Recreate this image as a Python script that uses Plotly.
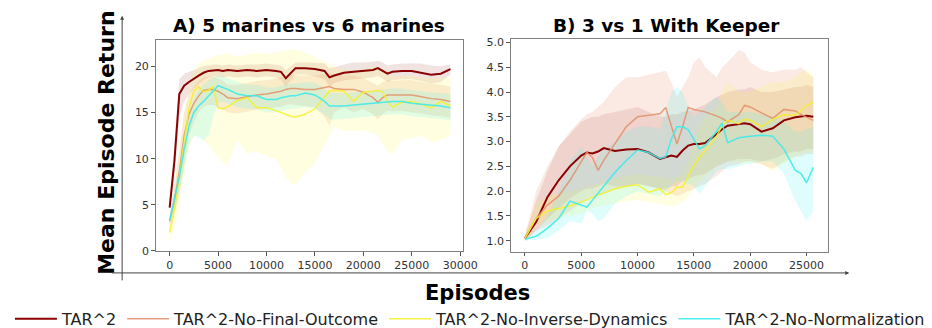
import plotly.graph_objects as go

W, H = 932, 328

# ---------------- data ----------------
series_names = ["TAR^2", "TAR^2-No-Final-Outcome", "TAR^2-No-Inverse-Dynamics", "TAR^2-No-Normalization"]

# Panel A: 5 marines vs 6 marines
xa = [0, 500, 1000, 1500, 2000, 2500, 3000, 3500, 4000, 4500, 5000, 5500, 6000, 7000, 8000, 9000,
      10000, 11000, 11500, 12000, 12500, 13000, 14000, 15000, 16000, 16500, 17000, 18000, 19000,
      20000, 21000, 21500, 22000, 22500, 23000, 24000, 25000, 26000, 27000, 28000, 29000]

tar_a = [4.7, 9.8, 17.0, 17.9, 18.3, 18.7, 19.0, 19.3, 19.5, 19.55, 19.6, 19.5, 19.6, 19.5, 19.6, 19.5,
         19.6, 19.5, 19.4, 18.7, 19.3, 19.8, 19.8, 19.7, 19.5, 18.8, 19.0, 19.3, 19.4,
         19.5, 19.6, 19.8, 19.5, 19.2, 19.4, 19.5, 19.5, 19.3, 19.1, 19.2, 19.7]
tar_a_hi = [5.3, 11.5, 18.6, 19.2, 19.4, 19.6, 19.8, 20.0, 20.1, 20.2, 20.2, 20.1, 20.2, 20.1, 20.2, 20.2,
            20.3, 20.2, 20.1, 19.6, 20.0, 20.4, 20.4, 20.4, 20.3, 19.8, 19.9, 20.2, 20.4,
            20.4, 20.5, 20.6, 20.4, 20.1, 20.2, 20.3, 20.3, 20.3, 20.1, 20.0, 20.2]
tar_a_lo = [4.1, 8.0, 14.5, 16.2, 17.0, 17.6, 18.1, 18.5, 18.8, 18.9, 18.9, 18.8, 18.9, 18.8, 18.9, 18.8,
            18.9, 18.8, 18.5, 17.8, 18.4, 19.1, 19.1, 18.9, 18.6, 17.8, 18.2, 18.5, 18.6,
            18.7, 18.8, 19.0, 18.6, 18.3, 18.5, 18.6, 18.6, 18.4, 18.1, 18.3, 19.1]

nfo_a = [3.2, 5.5, 8.5, 12.5, 14.8, 16.0, 16.8, 17.4, 17.5, 17.5, 17.3, 17.0, 16.6, 16.5, 16.7, 16.9,
         17.0, 17.2, 17.3, 17.5, 17.6, 17.6, 17.5, 17.5, 17.7, 17.8, 17.6, 17.5, 17.5,
         17.2, 16.6, 16.1, 16.6, 16.9, 16.9, 16.9, 16.9, 16.7, 16.5, 16.4, 16.2]
nfo_a_hi = [3.8, 7.0, 11.0, 15.0, 17.0, 17.8, 18.4, 18.8, 18.9, 18.9, 18.7, 18.4, 18.0, 18.0, 18.2, 18.4,
            18.5, 18.7, 18.8, 19.0, 19.1, 19.0, 19.0, 19.0, 19.2, 19.3, 19.1, 19.0, 19.0,
            18.7, 18.2, 17.9, 18.3, 18.5, 18.4, 18.5, 18.5, 18.3, 18.1, 18.0, 17.8]
nfo_a_lo = [2.6, 4.0, 6.0, 9.5, 12.5, 14.0, 15.0, 15.6, 15.8, 15.8, 15.6, 15.3, 15.0, 14.9, 15.1, 15.3,
            15.4, 15.6, 15.6, 15.8, 15.9, 15.8, 15.7, 15.6, 14.5, 13.6, 15.0, 15.6, 15.0,
            15.4, 14.8, 14.2, 14.8, 15.2, 15.1, 15.2, 15.0, 14.9, 14.7, 14.6, 14.4]

nid_a = [2.0, 4.5, 8.0, 12.0, 15.5, 17.3, 17.8, 17.2, 17.4, 17.8, 15.5, 15.4, 15.6, 16.3, 16.6, 15.5,
         15.5, 15.2, 15.0, 14.8, 14.6, 14.5, 14.8, 15.4, 16.6, 17.3, 17.4, 17.3, 16.2,
         17.2, 17.3, 17.4, 17.2, 16.2, 15.6, 16.1, 16.2, 15.9, 15.5, 16.2, 15.7]
nid_a_hi = [3.5, 7.0, 11.0, 15.0, 18.0, 19.5, 20.3, 20.6, 20.8, 21.0, 21.2, 21.3, 21.5, 21.0, 21.3, 21.5,
            21.3, 21.5, 21.6, 21.7, 21.8, 21.8, 21.5, 21.0, 20.5, 20.2, 20.0, 19.6, 19.5,
            19.7, 20.0, 19.9, 19.8, 19.5, 19.0, 19.0, 19.0, 18.8, 18.8, 18.8, 18.8]
nid_a_lo = [0.9, 2.5, 5.0, 8.0, 11.0, 12.5, 12.5, 12.0, 11.5, 10.8, 10.2, 9.6, 9.3, 12.0, 10.5, 10.8,
            10.3, 10.0, 9.0, 8.0, 7.3, 7.1, 8.5, 9.5, 11.5, 12.5, 13.5, 13.0, 13.0,
            13.0, 12.8, 12.5, 11.5, 10.8, 10.5, 12.0, 12.2, 12.5, 11.8, 12.0, 12.5]

nn_a = [3.3, 5.5, 8.0, 11.0, 13.5, 15.0, 15.7, 16.2, 16.8, 17.4, 17.9, 17.7, 17.5, 17.0, 16.8, 16.8,
        16.4, 16.4, 16.6, 16.7, 16.8, 16.8, 17.1, 16.9, 16.2, 15.7, 15.7, 15.7, 15.8,
        15.9, 16.0, 16.1, 16.1, 16.2, 16.2, 16.2, 16.0, 15.9, 15.8, 15.7, 15.5]
nn_a_hi = [3.7, 6.5, 9.5, 12.5, 15.0, 16.5, 17.5, 18.0, 18.5, 18.8, 19.0, 18.9, 18.7, 18.3, 18.0, 18.0,
           17.7, 17.7, 17.9, 18.0, 18.1, 18.1, 18.3, 18.2, 17.6, 17.1, 17.1, 17.1, 17.2,
           17.3, 17.4, 17.5, 17.5, 17.6, 17.6, 17.6, 17.4, 17.3, 17.2, 17.1, 17.0]
nn_a_lo = [2.9, 4.5, 6.5, 9.0, 11.5, 12.5, 12.3, 12.0, 12.5, 14.5, 16.0, 16.2, 16.0, 15.6, 15.4, 15.4,
           15.0, 15.0, 15.2, 15.3, 15.4, 15.4, 15.6, 15.4, 14.8, 14.3, 14.2, 14.3, 14.4,
           14.5, 14.6, 14.7, 14.7, 14.8, 14.8, 14.8, 14.6, 14.5, 14.4, 14.3, 14.1]

# Panel B: 3 vs 1 With Keeper
xb = [0, 1000, 2000, 3000, 4000, 5000, 5500, 6000, 6500, 7000, 8000, 9000, 10000, 11000, 12000,
      12500, 13000, 13500, 14000, 14500, 15000, 15500, 16000, 17000, 17500, 18000, 19000, 19500,
      20000, 21000, 22000, 23000, 24000, 24500, 25000, 25600]

tar_b = [1.05, 1.38, 1.88, 2.22, 2.5, 2.72, 2.78, 2.76, 2.8, 2.87, 2.81, 2.84, 2.85, 2.78, 2.65,
         2.68, 2.72, 2.69, 2.82, 2.92, 2.95, 2.95, 2.97, 3.15, 3.25, 3.32, 3.36, 3.37,
         3.35, 3.2, 3.27, 3.43, 3.49, 3.5, 3.52, 3.5]
tar_b_hi = [1.1, 1.8, 2.4, 2.9, 3.15, 3.4, 3.45, 3.5, 3.5, 3.55, 3.6, 3.65, 3.7, 3.6, 3.5,
            3.5, 3.55, 3.55, 3.6, 3.62, 3.65, 3.7, 3.75, 3.9, 3.95, 4.0, 4.05, 4.05,
            4.1, 4.0, 4.0, 4.05, 4.1, 4.1, 4.15, 4.1]
tar_b_lo = [1.0, 1.2, 1.45, 1.65, 1.85, 2.0, 2.05, 2.05, 2.1, 2.15, 2.1, 2.1, 2.15, 2.1, 2.05,
            2.05, 2.1, 2.1, 2.2, 2.25, 2.3, 2.32, 2.35, 2.5, 2.55, 2.6, 2.65, 2.65,
            2.65, 2.6, 2.65, 2.75, 2.8, 2.8, 2.85, 2.85]

nfo_b = [1.05, 1.45, 1.72, 1.9, 2.22, 2.58, 2.78, 2.68, 2.42, 2.62, 2.95, 3.3, 3.5, 3.53, 3.56,
         3.69, 3.3, 2.95, 3.3, 3.69, 3.65, 3.63, 3.6, 3.52, 3.47, 3.4, 3.55, 3.73,
         3.7, 3.58, 3.47, 3.65, 3.62, 3.55, 3.5, 3.43]
nfo_b_hi = [1.1, 2.0, 2.5, 2.9, 3.2, 3.45, 3.55, 3.6, 3.7, 3.8, 4.1, 4.3, 4.3, 4.35, 4.4,
            4.43, 4.2, 3.9, 4.1, 4.3, 4.6, 4.7, 4.5, 4.3, 4.5, 4.6, 4.85, 4.8,
            4.6, 4.45, 4.4, 4.45, 4.45, 4.5, 4.4, 4.3]
nfo_b_lo = [1.0, 1.2, 1.3, 1.45, 1.6, 1.75, 1.85, 1.9, 1.9, 1.95, 2.05, 2.1, 2.15, 2.1, 2.05,
            2.0, 1.95, 1.9, 1.95, 2.0, 2.05, 2.1, 2.15, 2.3, 2.4, 2.5, 2.55, 2.6,
            2.6, 2.55, 2.45, 2.6, 2.7, 2.7, 2.75, 2.75]

nid_b = [1.05, 1.45, 1.6, 1.65, 1.7, 1.78, 1.83, 1.88, 1.92, 1.96, 2.05, 2.1, 2.13, 1.98, 2.05,
         1.93, 1.97, 2.08, 2.08, 2.3, 2.52, 2.68, 2.82, 3.1, 3.32, 3.43, 3.36, 3.45,
         3.43, 3.3, 3.45, 3.54, 3.53, 3.62, 3.73, 3.79]
nid_b_hi = [1.1, 1.75, 1.9, 1.95, 2.0, 2.05, 2.1, 2.12, 2.15, 2.2, 2.25, 2.3, 2.35, 2.3, 2.3,
            2.25, 2.25, 2.3, 2.35, 2.6, 3.0, 3.3, 3.5, 3.7, 4.0, 4.2, 4.0, 4.0,
            4.0, 4.1, 4.2, 4.2, 4.3, 4.4, 4.45, 4.35]
nid_b_lo = [1.0, 1.3, 1.4, 1.45, 1.5, 1.55, 1.6, 1.65, 1.68, 1.7, 1.75, 1.8, 1.82, 1.78, 1.75,
            1.72, 1.7, 1.72, 1.78, 1.9, 2.05, 2.2, 2.3, 2.5, 2.55, 2.6, 2.6, 2.55,
            2.6, 2.55, 2.4, 2.55, 2.7, 2.75, 2.8, 2.8]

nn_b = [1.03, 1.09, 1.25, 1.45, 1.8, 1.72, 1.68, 1.82, 1.95, 2.1, 2.38, 2.62, 2.83, 2.78, 2.66,
        2.69, 3.05, 3.3, 3.3, 3.24, 3.05, 2.85, 2.92, 3.2, 3.37, 2.98, 3.08, 3.1,
        3.11, 3.13, 3.11, 2.85, 2.42, 2.36, 2.17, 2.48]
nn_b_hi = [1.05, 1.2, 1.5, 2.0, 2.6, 2.9, 2.7, 2.5, 2.7, 2.85, 3.0, 3.2, 3.3, 3.3, 3.25,
           3.6, 4.0, 4.1, 4.0, 3.7, 3.5, 3.6, 3.7, 3.9, 3.8, 3.6, 3.6, 3.6,
           3.6, 3.55, 3.5, 3.4, 3.2, 3.2, 3.25, 3.3]
nn_b_lo = [1.0, 1.02, 1.05, 1.2, 1.4, 1.35, 1.6, 1.55, 1.4, 1.45, 1.75, 1.9, 2.0, 1.95, 1.9,
           2.0, 2.1, 2.2, 2.2, 2.15, 2.1, 1.95, 2.1, 2.4, 2.45, 2.45, 2.5, 2.55,
           2.55, 2.6, 2.6, 2.35, 1.8, 1.6, 1.4, 1.6]

xticks_a = [0, 5000, 10000, 15000, 20000, 25000, 30000]
yticks_a = [0, 5, 10, 15, 20]
xticks_b = [0, 5000, 10000, 15000, 20000, 25000]
yticks_b = [1.0, 1.5, 2.0, 2.5, 3.0, 3.5, 4.0, 4.5, 5.0]

# ---------------- styles ----------------
line_colors = ["#8B0000", "rgba(225,145,105,0.85)", "rgba(245,240,40,0.85)", "rgba(60,235,235,0.9)"]
band_colors = ["rgba(139,0,0,0.11)", "rgba(225,140,100,0.18)", "rgba(255,250,60,0.16)", "rgba(60,240,240,0.16)"]
line_widths = [2.0, 1.5, 1.5, 1.5]

panels = [
    ("x", "y", xa, [(tar_a, tar_a_lo, tar_a_hi), (nfo_a, nfo_a_lo, nfo_a_hi),
                    (nid_a, nid_a_lo, nid_a_hi), (nn_a, nn_a_lo, nn_a_hi)]),
    ("x2", "y2", xb, [(tar_b, tar_b_lo, tar_b_hi), (nfo_b, nfo_b_lo, nfo_b_hi),
                      (nid_b, nid_b_lo, nid_b_hi), (nn_b, nn_b_lo, nn_b_hi)]),
]

fig = go.Figure()
for pi, (xr, yr, xs, groups) in enumerate(panels):
    for si, (m, lo, hi) in enumerate(groups):
        fig.add_trace(go.Scatter(x=xs, y=lo, xaxis=xr, yaxis=yr, mode="lines",
                                 line=dict(width=0), showlegend=False, hoverinfo="skip"))
        fig.add_trace(go.Scatter(x=xs, y=hi, xaxis=xr, yaxis=yr, mode="lines",
                                 line=dict(width=0), fill="tonexty", fillcolor=band_colors[si],
                                 showlegend=False, hoverinfo="skip"))
    for si, (m, lo, hi) in enumerate(groups):
        fig.add_trace(go.Scatter(x=xs, y=m, xaxis=xr, yaxis=yr, mode="lines",
                                 line=dict(color=line_colors[si], width=line_widths[si]),
                                 name=series_names[si], showlegend=(pi == 0)))

def px(x):
    return x / W

def py(y):
    return 1 - y / H

axis_common = dict(showgrid=False, zeroline=False, showline=True, linecolor="#808080", linewidth=1,
                   mirror=True, ticks="outside", ticklen=3.5, tickcolor="#555555", tickwidth=1,
                   tickfont=dict(family="DejaVu Sans", size=11, color="#333333"))

fig.update_layout(
    width=W, height=H,
    margin=dict(l=0, r=0, t=0, b=0),
    paper_bgcolor="white", plot_bgcolor="white",
    font=dict(family="DejaVu Sans", color="#000000"),
    xaxis=dict(domain=[px(150), px(462)], range=[-1450, 30250], tickvals=xticks_a,
               ticktext=[str(v) for v in xticks_a], anchor="y", **axis_common),
    yaxis=dict(domain=[py(248.5), py(30)], range=[-0.02, 22.85], tickvals=yticks_a,
               ticktext=[str(v) for v in yticks_a], anchor="x", **axis_common),
    xaxis2=dict(domain=[px(511), px(833)], range=[-1250, 26870], tickvals=xticks_b,
                ticktext=[str(v) for v in xticks_b], anchor="y2", **axis_common),
    yaxis2=dict(domain=[py(249), py(29)], range=[0.78, 5.07], tickvals=yticks_b,
                ticktext=["%.1f" % v for v in yticks_b], anchor="x2", **axis_common),
    legend=dict(orientation="h", x=px(470), xanchor="center", y=py(318.5), yanchor="middle",
                font=dict(family="DejaVu Sans", size=16, color="#222222"),
                bgcolor="rgba(0,0,0,0)", itemwidth=42, traceorder="normal"),
    showlegend=True,
)

annotations = [
    dict(text="<b>A) 5 marines vs 6 marines</b>", x=px(306), y=py(15), xref="paper", yref="paper",
         showarrow=False, xanchor="center", yanchor="middle",
         font=dict(family="DejaVu Sans", size=18.5, color="#000000")),
    dict(text="<b>B) 3 vs 1 With Keeper</b>", x=px(669), y=py(15), xref="paper", yref="paper",
         showarrow=False, xanchor="center", yanchor="middle",
         font=dict(family="DejaVu Sans", size=18.5, color="#000000")),
    dict(text="<b>Mean Episode Return</b>", x=px(100), y=py(136), xref="paper", yref="paper",
         showarrow=False, xanchor="center", yanchor="middle", textangle=-90,
         font=dict(family="DejaVu Sans", size=22, color="#000000")),
    dict(text="<b>Episodes</b>", x=px(477), y=py(292), xref="paper", yref="paper",
         showarrow=False, xanchor="center", yanchor="middle",
         font=dict(family="DejaVu Sans", size=21, color="#000000")),
    # outer axis arrows
    dict(x=px(116), y=py(5), xref="paper", yref="paper", ax=0, ay=266, axref="pixel", ayref="pixel",
         showarrow=True, arrowhead=2, arrowsize=0.8, arrowwidth=1, arrowcolor="#444444", text=""),
    dict(x=px(855), y=py(271), xref="paper", yref="paper", ax=-739, ay=0, axref="pixel", ayref="pixel",
         showarrow=True, arrowhead=2, arrowsize=0.8, arrowwidth=1, arrowcolor="#444444", text=""),
]
fig.update_layout(annotations=annotations)

fig.write_html("out.html")
